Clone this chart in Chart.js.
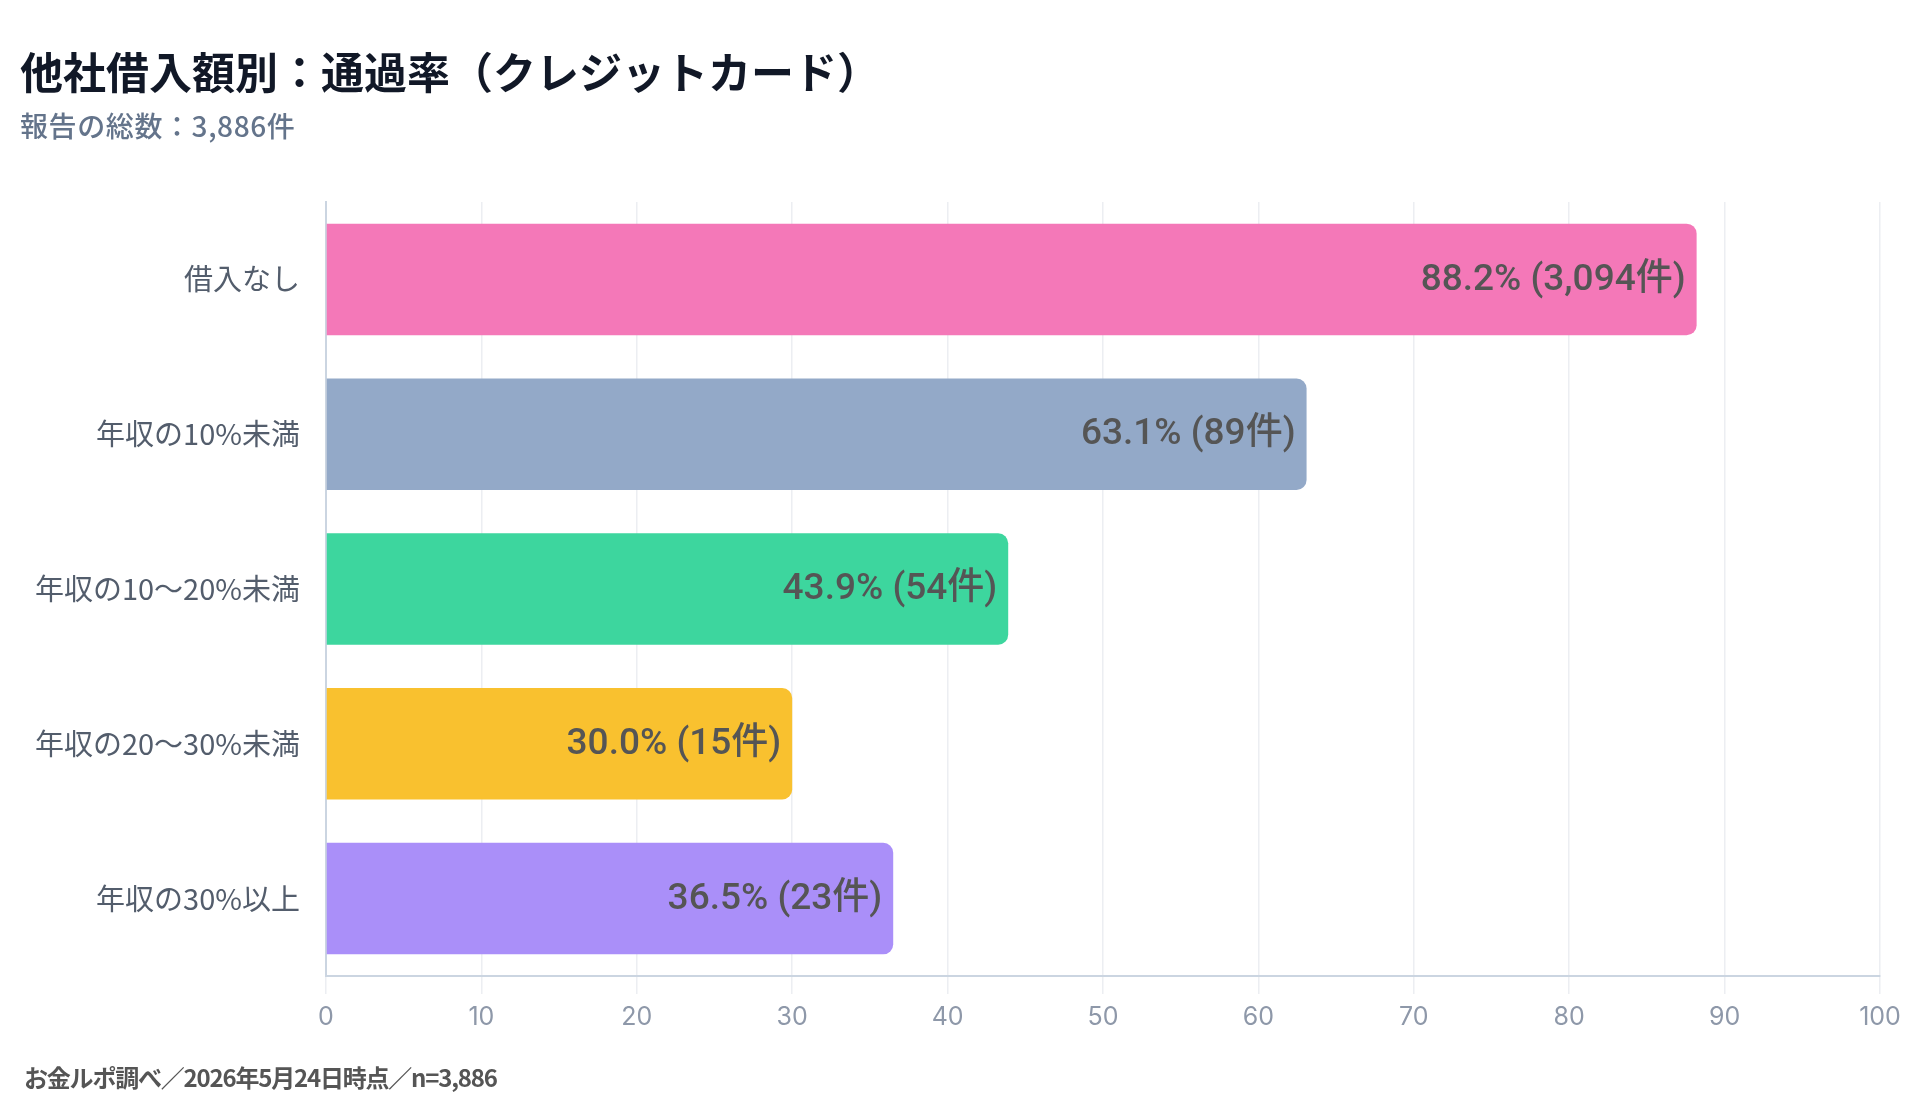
<!DOCTYPE html>
<html lang="ja">
<head>
<meta charset="utf-8">
<script src="https://cdn.jsdelivr.net/npm/chart.js@4"></script>
<style>
  html, body { margin: 0; padding: 0; background: #fff; }
  body { width: 1920px; height: 1110px; position: relative; overflow: hidden;
         font-family: Inter, "Noto Sans CJK JP", sans-serif; }
  #title { position: absolute; left: 20px; top: 42px; font-size: 43px; font-weight: 700;
           color: #111827; font-family: "Noto Sans CJK JP", sans-serif; line-height: 56px; }
  #subtitle { position: absolute; left: 20px; top: 107px; font-size: 28px; font-weight: 500;
              color: #64748b; font-family: "Noto Sans CJK JP", sans-serif; line-height: 36px; letter-spacing: 0.6px; }
  #footer { position: absolute; left: 24px; top: 1061px; font-size: 24px; font-weight: 700;
            color: #555; font-family: "Noto Sans CJK JP", sans-serif; letter-spacing: -1.2px; line-height: 32px; }
  #wrap { position: absolute; left: 0; top: 0; width: 1920px; height: 1110px; }
</style>
</head>
<body>
<div id="wrap"><canvas id="chart"></canvas></div>
<div id="title">他社借入額別：通過率（クレジットカード）</div>
<div id="subtitle">報告の総数：3,886件</div>
<div id="footer">お金ルポ調べ／2026年5月24日時点／n=3,886</div>
<script>
const categories = ["借入なし", "年収の10%未満", "年収の10〜20%未満", "年収の20〜30%未満", "年収の30%以上"];
const rates = [88.2, 63.1, 43.9, 30.0, 36.5];
const counts = [3094, 89, 54, 15, 23];
const barColors = ["#f478b8", "#93a9c8", "#3dd69e", "#f9c12f", "#aa8ff9"];
const xTicks = [0, 10, 20, 30, 40, 50, 60, 70, 80, 90, 100];

const barLabels = {
  id: "barLabels",
  afterDatasetsDraw(chart) {
    const ctx = chart.ctx;
    const meta = chart.getDatasetMeta(0);
    ctx.save();
    ctx.font = "500 37px Roboto, 'Noto Sans CJK JP', sans-serif";
    ctx.fillStyle = "#555555";
    ctx.textAlign = "right";
    ctx.textBaseline = "middle";
    meta.data.forEach((bar, i) => {
      const txt = rates[i].toFixed(1) + "% (" + counts[i].toLocaleString("en-US") + "件)";
      ctx.fillText(txt, bar.x - 11, bar.y + 1);
    });
    ctx.restore();
  }
};

const ctx = document.getElementById("chart").getContext("2d");
new Chart(ctx, {
  type: "bar",
  data: {
    labels: categories,
    datasets: [{
      data: rates,
      backgroundColor: barColors,
      borderRadius: 10,
      borderSkipped: "start",
      categoryPercentage: 0.8,
      barPercentage: 0.9
    }]
  },
  options: {
    indexAxis: "y",
    responsive: true,
    maintainAspectRatio: false,
    animation: false,
    layout: { padding: { top: 202, right: 40, left: 0, bottom: 0 } },
    plugins: { legend: { display: false }, tooltip: { enabled: false } },
    scales: {
      x: {
        min: 0, max: 100,
        afterBuildTicks: (scale) => { scale.ticks = xTicks.map(v => ({ value: v })); },
        afterFit: (scale) => { scale.height = 134; },
        grid: { color: "#eceef2", lineWidth: 1.5, tickLength: 18, drawTicks: true },
        border: { color: "#cbd5e1", width: 2 },
        ticks: { color: "#8e98a9", font: { size: 25, family: "Inter, sans-serif" }, padding: 8 }
      },
      y: {
        afterFit: (scale) => { scale.width = 326; },
        grid: { display: true, color: "transparent", drawTicks: false },
        border: { color: "#cbd5e1", width: 2 },
        ticks: { color: "#535d6c", font: { size: 29, family: "'Noto Sans CJK JP', sans-serif" }, padding: 26 }
      }
    }
  },
  plugins: [barLabels]
});
</script>
</body>
</html>
